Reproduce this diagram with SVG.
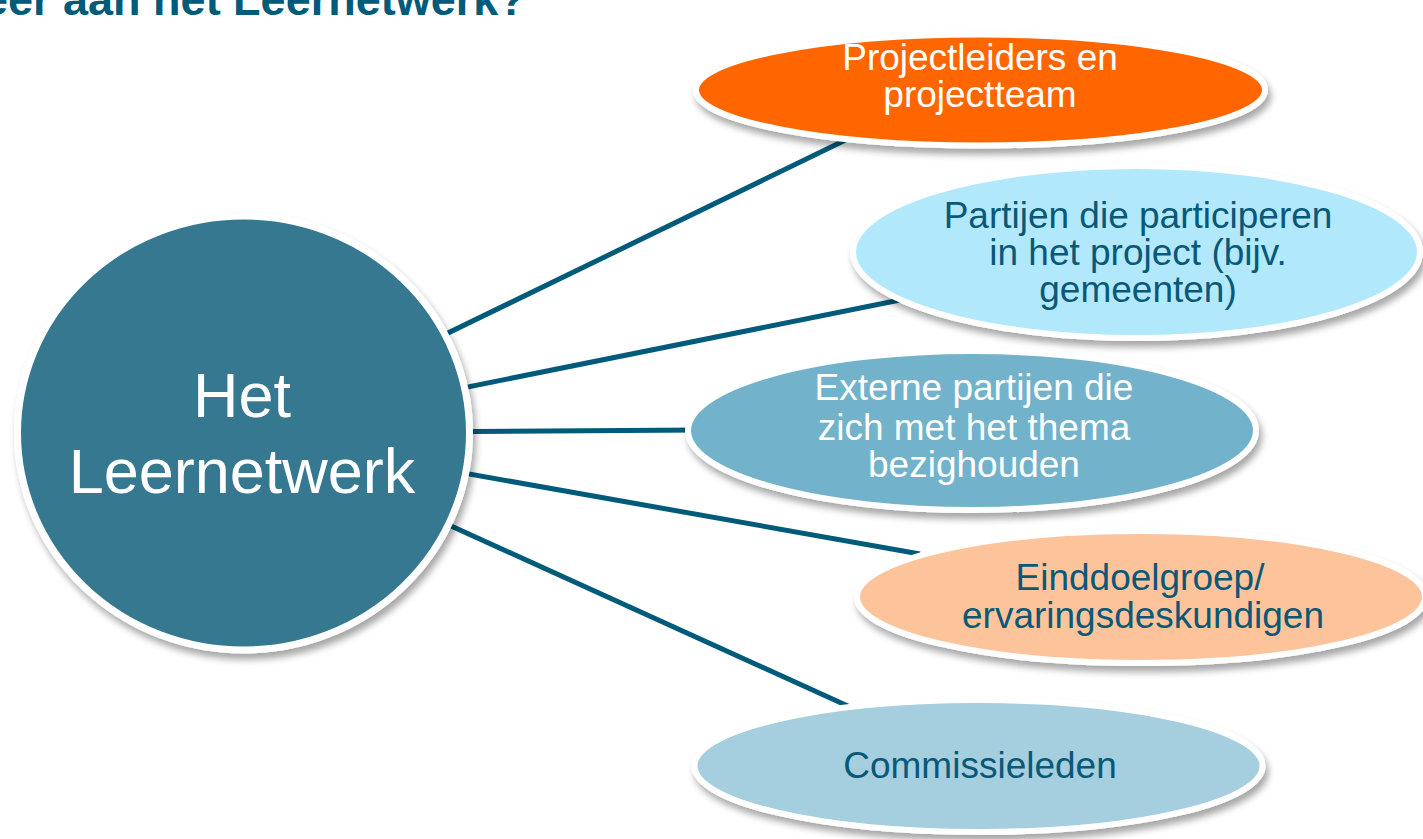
<svg xmlns="http://www.w3.org/2000/svg" width="1423" height="839" viewBox="0 0 1423 839">
<defs>
<style>
.node{stroke:#ffffff;stroke-width:6;filter:url(#sh)}
.t{font-family:"Liberation Sans",Arial,sans-serif;font-size:37px;text-anchor:middle}
.big{font-size:63px}
.w{fill:#ffffff}
.d{fill:#0A5878}
.con{stroke:#005A7A;stroke-width:5;fill:none}
</style>
<filter id="sh" x="-10%" y="-20%" width="120%" height="150%">
<feDropShadow dx="3" dy="6" stdDeviation="3.5" flood-color="#000" flood-opacity="0.35"/>
</filter>
</defs>
<rect width="1423" height="839" fill="#ffffff"/>
<text x="-17" y="15" font-family="Liberation Sans,Arial,sans-serif" font-weight="bold" font-size="45" fill="#005A7A">eer aan het Leernetwerk?</text>
<g id="connectors">
<line class="con" x1="244" y1="432" x2="860" y2="133"/>
<line class="con" x1="244" y1="432" x2="900" y2="300"/>
<line class="con" x1="244" y1="433" x2="700" y2="430"/>
<line class="con" x1="244" y1="434" x2="920" y2="554"/>
<line class="con" x1="244" y1="432" x2="850" y2="707"/>
</g>
<g id="center">
<ellipse class="node" cx="243.5" cy="433" rx="226" ry="217" fill="#35788F" style="stroke-width:7"/>
<text class="t w big" x="242" y="417">Het</text>
<text class="t w big" x="242" y="493">Leernetwerk</text>
</g>
<g id="n1">
<ellipse class="node" cx="980.5" cy="90" rx="284.5" ry="55.5" fill="#FF6600"/>
<text class="t w" x="980" y="70">Projectleiders en</text>
<text class="t w" x="980" y="107">projectteam</text>
</g>
<g id="n2">
<ellipse class="node" cx="1136.5" cy="252" rx="283.5" ry="86" fill="#B2E8FB"/>
<text class="t d" x="1138" y="228">Partijen die participeren</text>
<text class="t d" x="1138" y="265">in het project (bijv.</text>
<text class="t d" x="1138" y="302">gemeenten)</text>
</g>
<g id="n3">
<ellipse class="node" cx="972" cy="430.5" rx="284" ry="79.5" fill="#72B3CB"/>
<text class="t w" x="974" y="400">Externe partijen die</text>
<text class="t w" x="974" y="440">zich met het thema</text>
<text class="t w" x="974" y="477">bezighouden</text>
</g>
<g id="n4">
<ellipse class="node" cx="1141" cy="597" rx="284" ry="66" fill="#FDC49C"/>
<text class="t d" x="1140" y="590">Einddoelgroep/</text>
<text class="t d" x="1143" y="628">ervaringsdeskundigen</text>
</g>
<g id="n5">
<ellipse class="node" cx="978.5" cy="766" rx="284" ry="66" fill="#A5CEDE"/>
<text class="t d" x="980" y="778">Commissieleden</text>
</g>
</svg>
